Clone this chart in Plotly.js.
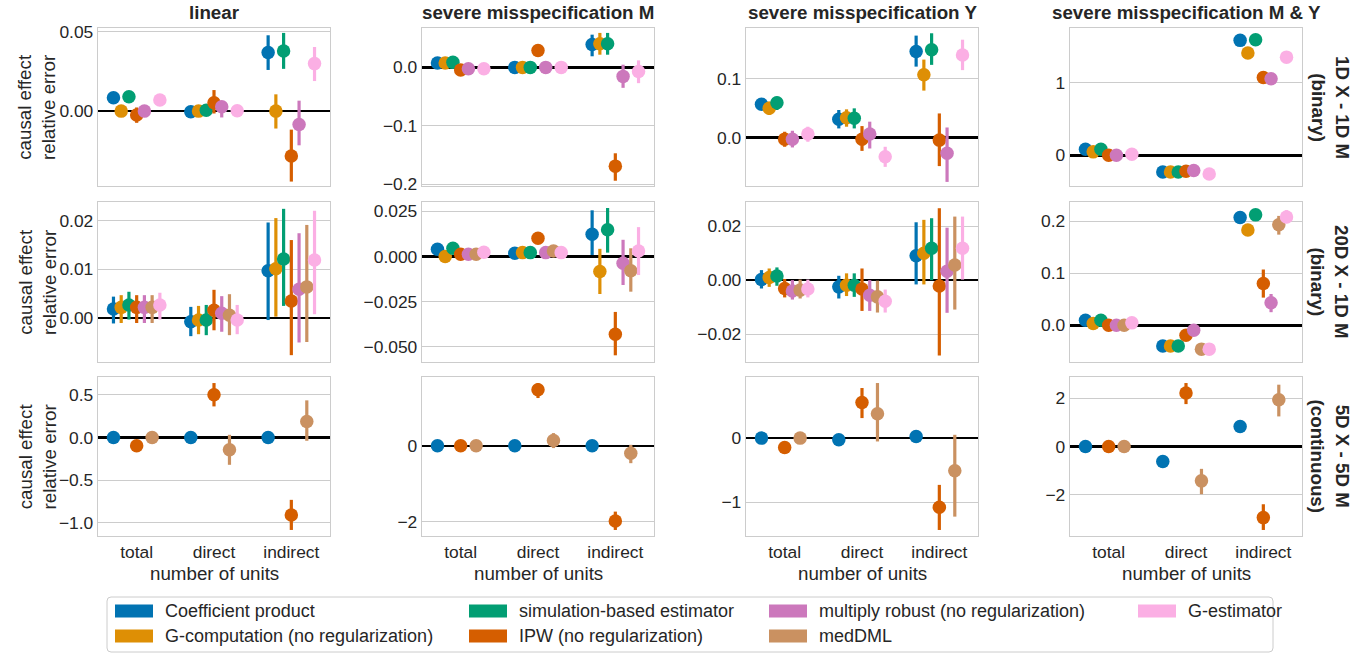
<!DOCTYPE html>
<html><head><meta charset="utf-8">
<script src="https://cdn.plot.ly/plotly-3.0.1.min.js"></script>
<style>html,body{margin:0;padding:0;background:#fff}#chart{width:1368px;height:654px}</style>
</head><body><div id="chart"></div>
<script>
// ---------------- data ----------------
const categories = ['total', 'direct', 'indirect'];
const estimators = ['Coefficient product', 'G-computation (no regularization)', 'simulation-based estimator',
  'IPW (no regularization)', 'multiply robust (no regularization)', 'medDML', 'G-estimator'];
const colors = ['#0173B2', '#DE8F05', '#029E73', '#D55E00', '#CC78BC', '#CA9161', '#FBAFE4'];
const scenarios = ['linear', 'severe misspecification M', 'severe misspecification Y', 'severe misspecification M & Y'];
const settings = ['1D X - 1D M<br>(binary)', '20D X - 1D M<br>(binary)', '5D X - 5D M<br>(continuous)'];

// rows = estimators (order above), columns = total, direct, indirect
// ---- 1D X - 1D M (binary)
const lin1_mean = [[0.0085,-0.0004,0.037],[0.0,0.0,0.0],[0.0091,0.0006,0.038],[-0.0025,0.0053,-0.0284],[0.0,0.0028,-0.0085],null,[0.007,0.0002,0.030]];
const lin1_lo   = [[0.0065,-0.0034,0.026],[-0.002,-0.003,-0.011],[0.0071,-0.0024,0.0267],[-0.0074,-0.0015,-0.0445],[-0.002,-0.004,-0.0216],null,[0.004,-0.0028,0.019]];
const lin1_hi   = [[0.0105,0.0026,0.0479],[0.002,0.003,0.0106],[0.0111,0.0036,0.0494],[0.0023,0.0133,-0.0117],[0.002,0.0064,0.0066],null,[0.010,0.0032,0.0405]];

const misM1_mean = [[0.0074,0.0,0.039],[0.0074,0.0,0.0406],[0.0086,0.0,0.0406],[-0.0046,0.029,-0.169],[-0.0023,0.0,-0.0154],null,[-0.0023,0.0,-0.0069]];
const misM1_lo   = [[0.004,-0.002,0.019],[0.004,-0.002,0.0217],[0.005,-0.002,0.0217],[-0.008,0.027,-0.194],[-0.005,-0.002,-0.035],null,[-0.005,-0.002,-0.027]];
const misM1_hi   = [[0.011,0.002,0.056],[0.011,0.002,0.059],[0.012,0.002,0.059],[-0.001,0.031,-0.147],[0.0005,0.002,0.0046],null,[0.0005,0.002,0.012]];

const misY1_mean = [[0.0566,0.031,0.147],[0.0497,0.0337,0.107],[0.0594,0.0326,0.150],[-0.0029,-0.003,-0.0046],[-0.003,0.0057,-0.027],null,[0.0057,-0.033,0.141]];
const misY1_lo   = [[0.0469,0.0154,0.121],[0.0383,0.0183,0.080],[0.0469,0.0154,0.124],[-0.016,-0.023,-0.049],[-0.0171,-0.0189,-0.076],null,[-0.0074,-0.0503,0.115]];
const misY1_hi   = [[0.0669,0.0469,0.174],[0.0611,0.048,0.133],[0.0697,0.0497,0.178],[0.0097,0.0194,0.041],[0.0114,0.0269,0.017],null,[0.0183,-0.016,0.167]];

const misMY1_mean = [[0.083,-0.231,1.588],[0.046,-0.231,1.412],[0.083,-0.231,1.597],[0.0,-0.222,1.074],[0.0,-0.213,1.056],null,[0.014,-0.259,1.356]];
const misMY1_lo   = [[0.065,-0.249,1.568],[0.028,-0.249,1.392],[0.065,-0.249,1.577],[-0.018,-0.240,1.054],[-0.018,-0.231,1.036],null,[-0.004,-0.277,1.336]];
const misMY1_hi   = [[0.101,-0.213,1.608],[0.064,-0.213,1.432],[0.101,-0.213,1.617],[0.018,-0.204,1.094],[0.018,-0.195,1.076],null,[0.032,-0.241,1.376]];

// ---- 20D X - 1D M (binary)
const lin20_mean = [[0.00185,-0.00075,0.0097],[0.0022,-0.0004,0.0101],[0.0027,-0.0004,0.0121],[0.0022,0.0016,0.0035],[0.0022,0.001,0.0059],[0.0022,0.0006,0.0064],[0.0027,-0.0004,0.0119]];
const lin20_lo   = [[-0.0011,-0.0037,-0.0004],[-0.001,-0.0033,0.0003],[-0.0003,-0.0035,0.0025],[-0.001,-0.0025,-0.0076],[-0.001,-0.0028,-0.005],[-0.001,-0.0035,-0.0049],[-0.0003,-0.0033,0.0008]];
const lin20_hi   = [[0.0044,0.0023,0.0196],[0.0047,0.0025,0.0205],[0.0054,0.0027,0.0224],[0.0047,0.0058,0.016],[0.0047,0.0045,0.0174],[0.0047,0.0049,0.0191],[0.0052,0.0027,0.022]];

const misM20_mean = [[0.0041,0.0019,0.0124],[0.0,0.0022,-0.0083],[0.0046,0.0022,0.0148],[0.0013,0.0102,-0.043],[0.0013,0.0022,-0.0037],[0.0013,0.0031,-0.0078],[0.0024,0.0022,0.0031]];
const misM20_lo   = [[0.0011,-0.0001,0.0009],[-0.003,0.0002,-0.0207],[0.0016,0.0002,0.0022],[-0.0017,0.0082,-0.0546],[-0.0017,0.0002,-0.0157],[-0.0017,0.0011,-0.0194],[-0.0006,0.0002,-0.0102]];
const misM20_hi   = [[0.0071,0.0039,0.0256],[0.003,0.0042,0.0043],[0.0076,0.0042,0.0269],[0.0043,0.0122,-0.0306],[0.0043,0.0042,0.0093],[0.0043,0.0051,0.0046],[0.0054,0.0042,0.0163]];

const misY20_mean = [[0.0002,-0.0025,0.009],[0.001,-0.0019,0.0099],[0.0015,-0.0019,0.0118],[-0.0031,-0.0033,-0.0022],[-0.004,-0.0056,0.0033],[-0.0037,-0.0062,0.0056],[-0.0033,-0.0078,0.0118]];
const misY20_lo   = [[-0.0031,-0.0068,-0.0016],[-0.0025,-0.0059,-0.0016],[-0.0021,-0.0062,0.0],[-0.0064,-0.0114,-0.0279],[-0.0072,-0.0114,-0.0121],[-0.0068,-0.012,-0.0109],[-0.0064,-0.012,0.0002]];
const misY20_hi   = [[0.0037,0.0016,0.0214],[0.0043,0.0025,0.0223],[0.0047,0.0025,0.0229],[0.0004,0.0043,0.0266],[0.0,0.0,0.0194],[0.0002,-0.0002,0.0235],[0.0002,-0.0035,0.0235]];

const misMY20_mean = [[0.0096,-0.04,0.207],[0.0032,-0.04,0.183],[0.0096,-0.04,0.212],[0.0,-0.0193,0.080],[0.0,-0.0096,0.043],[0.0,-0.046,0.193],[0.0045,-0.046,0.208]];
const misMY20_lo   = [[0.0066,-0.043,0.196],[0.0002,-0.043,0.173],[0.0066,-0.043,0.202],[-0.003,-0.0223,0.053],[-0.003,-0.0126,0.025],[-0.003,-0.049,0.174],[0.0015,-0.049,0.196]];
const misMY20_hi   = [[0.0126,-0.037,0.218],[0.0062,-0.037,0.193],[0.0126,-0.037,0.222],[0.003,-0.0163,0.107],[0.003,-0.0066,0.060],[0.003,-0.043,0.210],[0.0075,-0.043,0.221]];

// ---- 5D X - 5D M (continuous)
const lin5_mean = [[0.0,0.0,0.0],null,null,[-0.098,0.501,-0.909],null,[0.0,-0.145,0.188],null];
const lin5_lo   = [[-0.01,-0.01,-0.01],null,null,[-0.11,0.364,-1.085],null,[-0.01,-0.321,-0.039],null];
const lin5_hi   = [[0.01,0.01,0.01],null,null,[-0.086,0.638,-0.732],null,[0.01,0.031,0.435],null];

const misM5_mean = [[0.0,0.0,0.0],null,null,[0.0,1.48,-1.982],null,[0.0,0.141,-0.194],null];
const misM5_lo   = [[-0.02,-0.02,-0.02],null,null,[-0.02,1.26,-2.22],null,[-0.02,-0.06,-0.458],null];
const misM5_hi   = [[0.02,0.02,0.02],null,null,[0.02,1.656,-1.736],null,[0.02,0.335,0.026],null];

const misY5_mean = [[0.0,-0.026,0.026],null,null,[-0.146,0.557,-1.078],null,[0.0,0.38,-0.51],null];
const misY5_lo   = [[-0.01,-0.036,0.016],null,null,[-0.16,0.3125,-1.432],null,[-0.01,-0.052,-1.224],null];
const misY5_hi   = [[0.01,-0.016,0.036],null,null,[-0.13,0.781,-0.729],null,[0.01,0.859,0.052],null];

const misMY5_mean = [[0.0,-0.621,0.828],null,null,[0.0,2.207,-2.938],null,[0.0,-1.42,1.931],null];
const misMY5_lo   = [[-0.03,-0.65,0.80],null,null,[-0.03,1.75,-3.448],null,[-0.03,-1.972,1.241],null];
const misMY5_hi   = [[0.03,-0.59,0.86],null,null,[0.03,2.62,-2.386],null,[0.03,-0.924,2.552],null];

// y tick labels per panel
const yticks = [
  [0, 0.05], [-0.2, -0.1, 0.0], [0.0, 0.1], [0, 1],
  [0.0, 0.01, 0.02], [-0.05, -0.025, 0.0, 0.025], [-0.02, 0.0, 0.02], [0.0, 0.1, 0.2],
  [-1.0, -0.5, 0.0, 0.5], [-2, 0], [-1, 0], [-2, 0, 2]
];
const yticktext = [
  ['0.00', '0.05'], ['\u22120.2', '\u22120.1', '0.0'], ['0.0', '0.1'], ['0', '1'],
  ['0.00', '0.01', '0.02'], ['\u22120.050', '\u22120.025', '0.000', '0.025'], ['\u22120.02', '0.00', '0.02'], ['0.0', '0.1', '0.2'],
  ['\u22121.0', '\u22120.5', '0.0', '0.5'], ['\u22122', '0'], ['\u22121', '0'], ['\u22122', '0', '2']
];

// ---------------- layout ----------------
const W = 1368, H = 654;
const FONT = 'Liberation Sans, Arial, Helvetica, sans-serif';
const TXT = '#262626';
const colPx = [[98, 330], [422, 654], [746, 978], [1070, 1302]];
const rowPx = [[28, 186], [202, 362], [377, 536]];
const yRanges = [
  [-0.0473, 0.0525], [-0.203, 0.0674], [-0.083, 0.187], [-0.426, 1.759],
  [-0.009, 0.0238], [-0.0583, 0.0302], [-0.0303, 0.0289], [-0.0707, 0.2367],
  [-1.156, 0.709], [-2.379, 1.815], [-1.526, 0.953], [-3.697, 2.869]
];
const panels = [
  [lin1_mean, lin1_lo, lin1_hi], [misM1_mean, misM1_lo, misM1_hi], [misY1_mean, misY1_lo, misY1_hi], [misMY1_mean, misMY1_lo, misMY1_hi],
  [lin20_mean, lin20_lo, lin20_hi], [misM20_mean, misM20_lo, misM20_hi], [misY20_mean, misY20_lo, misY20_hi], [misMY20_mean, misMY20_lo, misMY20_hi],
  [lin5_mean, lin5_lo, lin5_hi], [misM5_mean, misM5_lo, misM5_hi], [misY5_mean, misY5_lo, misY5_hi], [misMY5_mean, misMY5_lo, misMY5_hi]
];
const dodge = 0.1;

const px = v => v / W;
const py = v => 1 - v / H;

const traces = [];
const layout = {
  width: W, height: H,
  margin: {l: 0, r: 0, t: 0, b: 0},
  paper_bgcolor: '#ffffff', plot_bgcolor: '#ffffff',
  showlegend: false,
  font: {family: FONT, color: TXT, size: 17},
  annotations: [], shapes: []
};

for (let r = 0; r < 3; r++) {
  for (let c = 0; c < 4; c++) {
    const k = r * 4 + c;
    const id = k === 0 ? '' : String(k + 1);
    const [mean, lo, hi] = panels[k];
    layout['xaxis' + id] = {
      domain: [px(colPx[c][0]), px(colPx[c][1])],
      anchor: 'y' + id,
      range: [-0.5, 2.5],
      tickvals: [0, 1, 2],
      ticktext: categories,
      showticklabels: r === 2,
      tickfont: {size: 17.4, color: TXT, family: FONT},
      ticks: '', showgrid: false, zeroline: false,
      showline: true, mirror: true, linecolor: '#cccccc', linewidth: 1.25,
      fixedrange: true
    };
    layout['yaxis' + id] = {
      domain: [py(rowPx[r][1]), py(rowPx[r][0])],
      anchor: 'x' + id,
      range: yRanges[k],
      tickvals: yticks[k], ticktext: yticktext[k],
      tickfont: {size: 17.4, color: TXT, family: FONT},
      ticks: '', showgrid: true, gridcolor: '#cccccc', gridwidth: 1,
      zeroline: true, zerolinecolor: '#000000', zerolinewidth: 2.6,
      showline: true, mirror: true, linecolor: '#cccccc', linewidth: 1.25,
      fixedrange: true
    };
    for (let e = 0; e < estimators.length; e++) {
      if (!mean[e]) continue;
      const xs = categories.map((_, i) => i + (e - 3) * dodge);
      traces.push({
        type: 'scatter', mode: 'markers',
        name: estimators[e],
        x: xs, y: mean[e],
        xaxis: 'x' + id, yaxis: 'y' + id,
        marker: {color: colors[e], size: 13.5, line: {width: 0}},
        error_y: {
          type: 'data', symmetric: false,
          array: mean[e].map((m, i) => hi[e][i] - m),
          arrayminus: mean[e].map((m, i) => m - lo[e][i]),
          color: colors[e], thickness: 3.2, width: 0
        },
        hoverinfo: 'skip', showlegend: false
      });
    }
  }
}

// column titles
scenarios.forEach((s, c) => {
  layout.annotations.push({
    text: '<b>' + s + '</b>', xref: 'paper', yref: 'paper',
    x: px((colPx[c][0] + colPx[c][1]) / 2), y: py(13), xanchor: 'center', yanchor: 'middle',
    showarrow: false, font: {size: 18.75, color: TXT, family: FONT}
  });
  layout.annotations.push({
    text: 'number of units', xref: 'paper', yref: 'paper',
    x: px((colPx[c][0] + colPx[c][1]) / 2), y: py(573), xanchor: 'center', yanchor: 'middle',
    showarrow: false, font: {size: 18.75, color: TXT, family: FONT}
  });
});
// row labels and y titles
settings.forEach((s, r) => {
  const yc = (rowPx[r][0] + rowPx[r][1]) / 2;
  layout.annotations.push({
    text: '<b>' + s + '</b>', xref: 'paper', yref: 'paper',
    x: px(1330), y: py(yc), xanchor: 'center', yanchor: 'middle', textangle: 90,
    showarrow: false, font: {size: 18.75, color: TXT, family: FONT}
  });
  layout.annotations.push({
    text: 'causal effect<br>relative error', xref: 'paper', yref: 'paper',
    x: px(37), y: py(yc), xanchor: 'center', yanchor: 'middle', textangle: -90,
    showarrow: false, font: {size: 18.75, color: TXT, family: FONT}
  });
});

// legend (drawn manually, matplotlib style, column-major order)
const lgX0 = 107, lgX1 = 1273, lgY0 = 597, lgY1 = 652, rad = 4;
layout.shapes.push({
  type: 'path', xref: 'paper', yref: 'paper', layer: 'above',
  path: `M ${px(lgX0 + rad)},${py(lgY0)} L ${px(lgX1 - rad)},${py(lgY0)} Q ${px(lgX1)},${py(lgY0)} ${px(lgX1)},${py(lgY0 + rad)} ` +
        `L ${px(lgX1)},${py(lgY1 - rad)} Q ${px(lgX1)},${py(lgY1)} ${px(lgX1 - rad)},${py(lgY1)} ` +
        `L ${px(lgX0 + rad)},${py(lgY1)} Q ${px(lgX0)},${py(lgY1)} ${px(lgX0)},${py(lgY1 - rad)} ` +
        `L ${px(lgX0)},${py(lgY0 + rad)} Q ${px(lgX0)},${py(lgY0)} ${px(lgX0 + rad)},${py(lgY0)} Z`,
  line: {color: '#cccccc', width: 1}, fillcolor: 'rgba(255,255,255,0.8)'
});
const lgCols = [115, 469, 769, 1138];
const lgRows = [611, 636];
estimators.forEach((name, e) => {
  const col = Math.floor(e / 2), row = e % 2;
  const x0 = lgCols[col], yc = lgRows[row];
  layout.shapes.push({
    type: 'rect', xref: 'paper', yref: 'paper', layer: 'above',
    x0: px(x0), x1: px(x0 + 38), y0: py(yc + 6.5), y1: py(yc - 6.5),
    line: {width: 0}, fillcolor: colors[e]
  });
  layout.annotations.push({
    text: name, xref: 'paper', yref: 'paper',
    x: px(x0 + 48), y: py(yc), xanchor: 'left', yanchor: 'middle',
    showarrow: false, font: {size: 18, color: TXT, family: FONT}
  });
});

Plotly.newPlot('chart', traces, layout, {displayModeBar: false, staticPlot: true});
</script>
</body></html>
